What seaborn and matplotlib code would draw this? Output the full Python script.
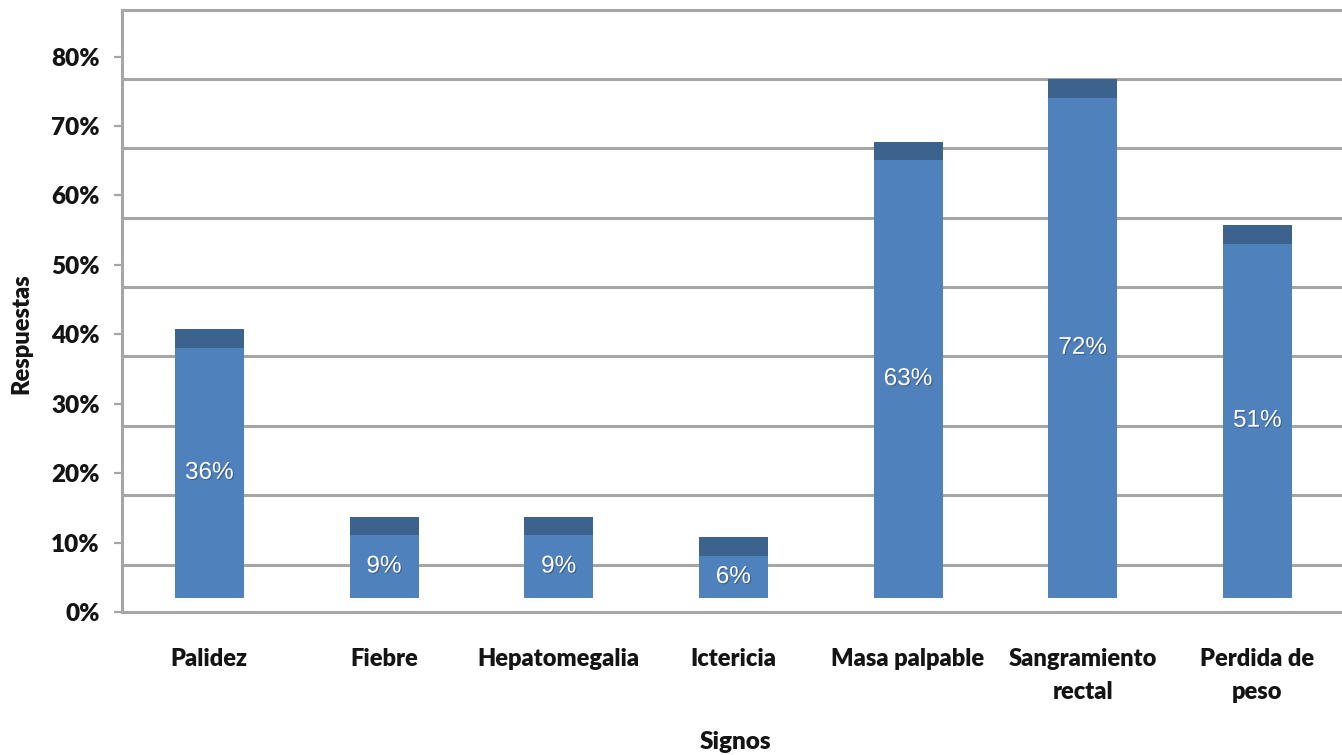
import matplotlib
matplotlib.use("Agg")
import matplotlib.pyplot as plt
import matplotlib.patheffects as pe
import seaborn as sns

# Signos clínicos y porcentaje de respuestas
signos = ["Palidez", "Fiebre", "Hepatomegalia", "Ictericia",
          "Masa palpable", "Sangramiento\nrectal", "Perdida de\npeso"]
porcentajes = [36, 9, 9, 6, 63, 72, 51]
ticks_y = [0, 10, 20, 30, 40, 50, 60, 70, 80]

sns.set_style("white")
plt.rcParams["font.family"] = ["Lato", "DejaVu Sans"]

front_color = "#4F81BD"
top_color = "#3C628E"
grid_color = "#A6A6A6"
text_color = "#141414"

# pseudo-3D geometry (in percent units of the value axis)
base = 2.05       # floor raise of the bars
cap = 2.7         # depth of the darker top face
wall_shift = 3.2  # back-wall gridlines sit below the tick marks
y_top = 86.7

W, H = 1342, 755
fig = plt.figure(figsize=(W / 100, H / 100), dpi=100)
ax = fig.add_axes([122 / W, (H - 612) / H, 1 - 122 / W + 0.002, (612 - 10) / H])

# back-wall gridlines
for t in ticks_y:
    if t + 10 - wall_shift < y_top:
        ax.axhline(t + 10 - wall_shift, color=grid_color, lw=2.2, zorder=0)
ax.axhline(y_top, color=grid_color, lw=2.2, zorder=0, clip_on=False)
ax.axhline(0, color=grid_color, lw=2.2, zorder=0, clip_on=False)

# front faces of the bars
sns.barplot(x=list(range(len(signos))), y=porcentajes, color=front_color,
            saturation=1, width=0.395, bottom=base, ax=ax, zorder=2,
            linewidth=0)
# darker top faces
sns.barplot(x=list(range(len(signos))), y=[cap] * len(signos), color=top_color,
            saturation=1, width=0.395, bottom=[base + v for v in porcentajes],
            ax=ax, zorder=2, linewidth=0)

for i, v in enumerate(porcentajes):
    ax.text(i, base + v / 2, f"{v}%", ha="center", va="center",
            color="white", fontsize=17.5, family=["Liberation Sans"],
            zorder=3,
            path_effects=[pe.withSimplePatchShadow(offset=(0.8, -0.8),
                                                   shadow_rgbFace="#33496a",
                                                   alpha=0.6)])

ax.set_xlim(-0.5, 6.5)
ax.set_ylim(0, y_top)
ax.set_yticks(ticks_y)
ax.set_yticklabels([f"{t}%" for t in ticks_y])
ax.set_xticks(range(len(signos)))
ax.set_xticklabels(signos, linespacing=1.6)

for s in ["top", "right", "bottom"]:
    ax.spines[s].set_visible(False)
ax.spines["left"].set_color(grid_color)
ax.spines["left"].set_linewidth(2.2)

ax.tick_params(axis="y", length=6, width=1.6, color=grid_color, pad=10,
               labelsize=17.5, left=True)
ax.tick_params(axis="x", length=0, pad=26, labelsize=17)
for lab in ax.get_yticklabels() + ax.get_xticklabels():
    lab.set_fontweight("heavy")
    lab.set_color(text_color)

ax.set_xlabel("")
ax.set_ylabel("")
ax.grid(False)

# axis titles
fig.text(735 / W, 1 - 742 / H, "Signos", ha="center", va="center",
         fontsize=17.5, fontweight="heavy", color=text_color)
fig.text(21 / W, 1 - 334 / H, "Respuestas", ha="center", va="center",
         rotation=90, fontsize=17, fontweight="heavy", color=text_color)

fig.savefig("out.png", dpi=100, facecolor="white")
